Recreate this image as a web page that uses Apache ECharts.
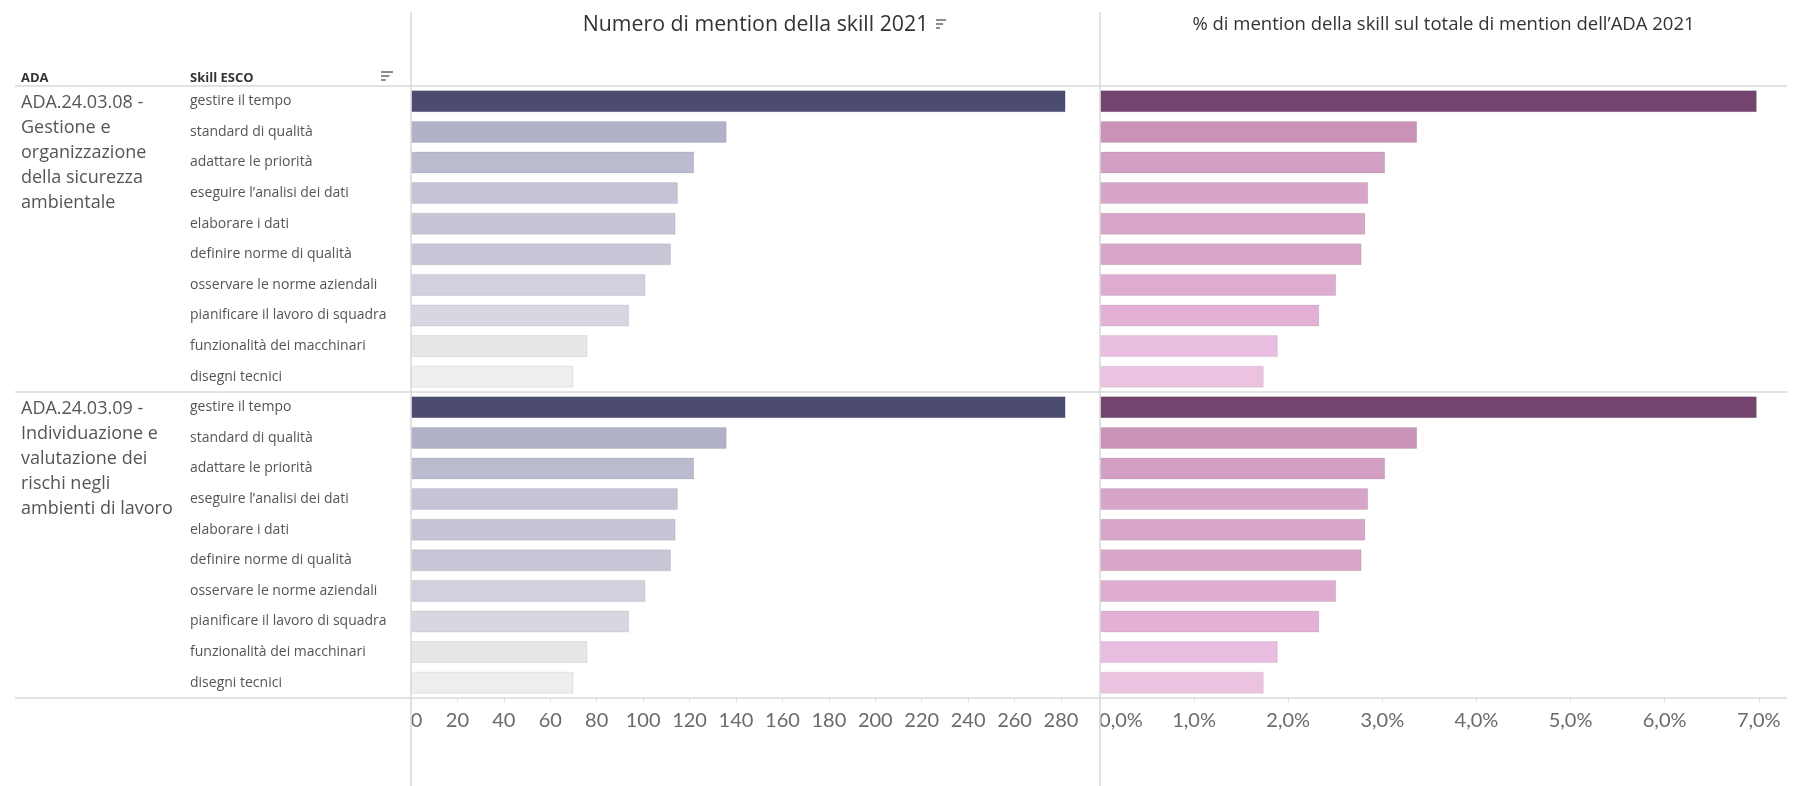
<!DOCTYPE html>
<html><head><meta charset="utf-8">
<script src="https://cdn.jsdelivr.net/npm/echarts@6/dist/echarts.min.js"></script>
<style>html,body{margin:0;padding:0;background:#fff}#c{width:1806px;height:786px}</style>
</head><body><div id="c"></div>
<script>
// ---- data ----
const adaGroups = [
  'ADA.24.03.08 -\nGestione e\norganizzazione\ndella sicurezza\nambientale',
  'ADA.24.03.09 -\nIndividuazione e\nvalutazione dei\nrischi negli\nambienti di lavoro'
];
const skills1 = ['gestire il tempo','standard di qualità','adattare le priorità','eseguire l’analisi dei dati','elaborare i dati','definire norme di qualità','osservare le norme aziendali','pianificare il lavoro di squadra','funzionalità dei macchinari','disegni tecnici'];
const skills2 = ['gestire il tempo','standard di qualità','adattare le priorità','eseguire l’analisi dei dati','elaborare i dati','definire norme di qualità','osservare le norme aziendali','pianificare il lavoro di squadra','funzionalità dei macchinari','disegni tecnici'];
const mentions1 = [282,136,122,115,114,112,101,94,76,70];
const mentions2 = [282,136,122,115,114,112,101,94,76,70];
const share1 = [6.98,3.37,3.03,2.85,2.82,2.78,2.51,2.33,1.89,1.74];
const share2 = [6.98,3.37,3.03,2.85,2.82,2.78,2.51,2.33,1.89,1.74];
const countTickStep = 20, countTickLast = 280;
const shareTickStep = 1, shareTickLast = 7;
const titleCount = 'Numero di mention della skill 2021';
const titleShare = '% di mention della skill sul totale di mention dell’ADA 2021';

// ---- styles ----
const countColors = ['#4c4c72','#b0b0c8','#bbbbd0','#c4c4d6','#c5c5d6','#c6c6d7','#d0d0de','#d7d7e1','#e7e7e9','#eeeeee'];
const shareColors = ['#72446e','#ca94b8','#d3a0c4','#d6a5c7','#d7a6c8','#d8a7c9','#ddacd0','#e2b1d5','#e9bddf','#ebc3e1'];
const FONT = '"Open Sans", "Noto Sans", sans-serif';
const NUMFONT = 'Lato, "Open Sans", sans-serif';
const G = {top:86, bottom:698, x0:411, x1:1100, x2:1787};
const countMax = 296.8, shareMax = 7.3;

const categories = skills1.concat(skills2);
const counts = mentions1.concat(mentions2);
const shares = share1.concat(share2);

const chart = echarts.init(document.getElementById('c'), null, {renderer:'canvas'});

function countFmt(v){
  if (v > countTickLast + 1e-6) return '';
  if (v === 0) return '{f|0}';
  return String(v);
}
function shareFmt(v){
  if (v > shareTickLast + 1e-6) return '';
  const s = v.toFixed(1).replace('.', ',') + '%';
  if (v === 0) return '{f|' + s + '}';
  return s;
}
const labelBase = {fontFamily:NUMFONT, fontSize:20, color:'#6a6a6a', margin:13, showMaxLabel:false};

const option = {
  animation:false,
  backgroundColor:'#fff',
  grid:[
    {left:G.x0, top:G.top, width:G.x1-G.x0, height:G.bottom-G.top},
    {left:G.x1, top:G.top, width:G.x2-G.x1, height:G.bottom-G.top}
  ],
  xAxis:[
    {gridIndex:0, type:'value', min:0, max:countMax, interval:countTickStep,
     axisLine:{show:false}, splitLine:{show:false},
     axisTick:{show:true, length:5, lineStyle:{color:'#e6e6e6'}},
     axisLabel:Object.assign({}, labelBase, {formatter:countFmt,
       rich:{f:{fontFamily:NUMFONT, fontSize:20, color:'#6a6a6a', padding:[0,0,0,11]}}})},
    {gridIndex:1, type:'value', min:0, max:shareMax, interval:shareTickStep,
     axisLine:{show:false}, splitLine:{show:false},
     axisTick:{show:true, length:5, lineStyle:{color:'#e6e6e6'}},
     axisLabel:Object.assign({}, labelBase, {formatter:shareFmt,
       rich:{f:{fontFamily:NUMFONT, fontSize:20, color:'#6a6a6a', padding:[0,0,0,42]}}})}
  ],
  yAxis:[
    {gridIndex:0, type:'category', inverse:true, data:categories,
     axisLine:{show:false}, axisTick:{show:false}, splitLine:{show:false},
     axisLabel:{align:'left', margin:G.x0-190, fontFamily:FONT, fontSize:14, color:'#555', padding:[4,0,0,0]}},
    {gridIndex:1, type:'category', inverse:true, data:categories,
     axisLine:{show:false}, axisTick:{show:false}, splitLine:{show:false},
     axisLabel:{show:false}}
  ],
  series:[
    {type:'bar', xAxisIndex:0, yAxisIndex:0, barWidth:22,
     itemStyle:{borderColor:'rgba(0,0,0,0.08)', borderWidth:1},
     data:counts.map((v,i)=>({value:v, itemStyle:{color:countColors[i%10]}}))},
    {type:'bar', xAxisIndex:1, yAxisIndex:1, barWidth:22,
     itemStyle:{borderColor:'rgba(0,0,0,0.08)', borderWidth:1},
     data:shares.map((v,i)=>({value:v, itemStyle:{color:shareColors[i%10]}}))}
  ]
};
chart.setOption(option);

// structural lines, headers and group labels
const lineStyle = {stroke:'#d9d9d9', lineWidth:1.5};
const r9 = chart.convertToPixel({gridIndex:0}, [0, 9])[1];
const r10 = chart.convertToPixel({gridIndex:0}, [0, 10])[1];
const groupBoundary = (r9 + r10) / 2;
const graphics = [
  {type:'line', shape:{x1:15, y1:G.top, x2:G.x2, y2:G.top}, style:lineStyle, z:10},
  {type:'line', shape:{x1:15, y1:groupBoundary, x2:G.x2, y2:groupBoundary}, style:lineStyle, z:10},
  {type:'line', shape:{x1:15, y1:G.bottom, x2:G.x2, y2:G.bottom}, style:lineStyle, z:10},
  {type:'line', shape:{x1:G.x0, y1:12, x2:G.x0, y2:786}, style:lineStyle, z:10},
  {type:'line', shape:{x1:G.x1, y1:12, x2:G.x1, y2:786}, style:lineStyle, z:10},
  {type:'text', x:(G.x0+G.x1)/2, y:25, style:{text:titleCount, fontFamily:FONT, fontSize:21.3, fill:'#333', align:'center', verticalAlign:'middle'}},
  {type:'text', x:(G.x1+G.x2)/2, y:25, style:{text:titleShare, fontFamily:FONT, fontSize:18.5, fill:'#333', align:'center', verticalAlign:'middle'}},
  {type:'text', x:21, y:78, style:{text:'ADA', fontFamily:FONT, fontSize:13, fontWeight:'bold', fill:'#333', verticalAlign:'middle'}},
  {type:'text', x:190, y:78, style:{text:'Skill ESCO', fontFamily:FONT, fontSize:13, fontWeight:'bold', fill:'#333', verticalAlign:'middle'}}
];
function sortIcon(x, y, w){
  return [
    {type:'line', shape:{x1:x, y1:y, x2:x+w, y2:y}, style:{stroke:'#666', lineWidth:1.5}},
    {type:'line', shape:{x1:x, y1:y+4, x2:x+w*0.7, y2:y+4}, style:{stroke:'#666', lineWidth:1.5}},
    {type:'line', shape:{x1:x, y1:y+8, x2:x+w*0.4, y2:y+8}, style:{stroke:'#666', lineWidth:1.5}}
  ];
}
graphics.push(...sortIcon(381, 72, 12));
graphics.push(...sortIcon(936, 20, 10));
adaGroups.forEach((txt, gi)=>{
  const y = chart.convertToPixel({gridIndex:0}, [0, gi*10])[1];
  graphics.push({type:'text', x:21, y:y-10.5, style:{text:txt, fontFamily:FONT, fontSize:18, fill:'#555', lineHeight:25, verticalAlign:'top', align:'left'}});
});
chart.setOption({graphic:graphics});
</script></body></html>
